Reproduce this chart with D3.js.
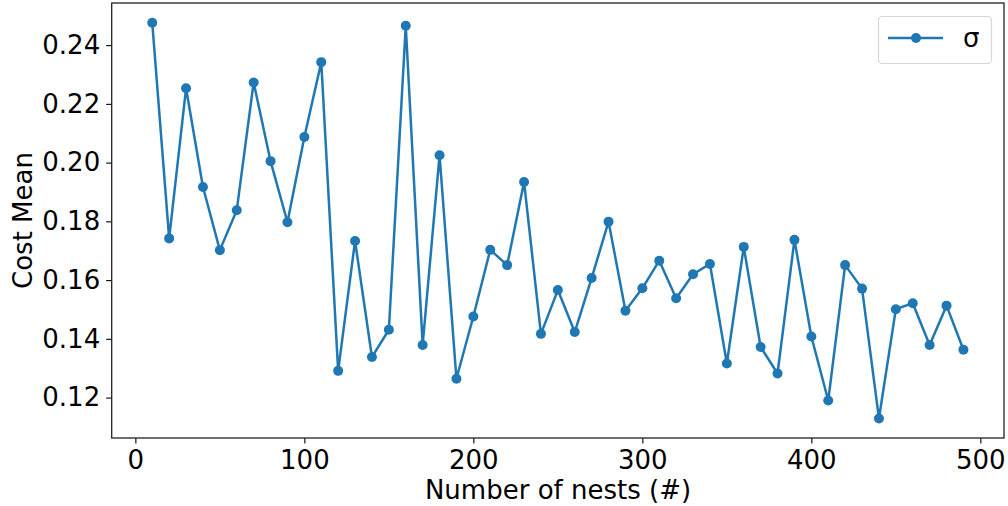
<!DOCTYPE html>
<html>
<head>
<meta charset="utf-8">
<script src="https://cdn.jsdelivr.net/npm/d3@7"></script>
<style>
  html, body { margin: 0; padding: 0; background: #fff; }
  svg { display: block; font-family: "DejaVu Sans", sans-serif; }
</style>
</head>
<body>
<svg id="chart" width="1008" height="506"></svg>
<script>
const nests = [10,20,30,40,50,60,70,80,90,100,110,120,130,140,150,160,170,180,190,200,
  210,220,230,240,250,260,270,280,290,300,310,320,330,340,350,360,370,380,390,400,
  410,420,430,440,450,460,470,480,490];
const sigmaCost = [0.2476,0.1742,0.2253,0.1917,0.1702,0.1838,0.2273,0.2005,0.1797,0.2087,
  0.2342,0.1291,0.1733,0.1338,0.1431,0.2466,0.1379,0.2025,0.1264,0.1476,
  0.1703,0.1651,0.1934,0.1417,0.1566,0.1423,0.1607,0.1799,0.1496,0.1572,
  0.1666,0.1538,0.1620,0.1655,0.1316,0.1713,0.1372,0.1282,0.1737,0.1408,
  0.1190,0.1651,0.1571,0.1129,0.1501,0.1521,0.1379,0.1513,0.1363];
const xTicks = [0,100,200,300,400,500];
const yTicks = [0.12,0.14,0.16,0.18,0.20,0.22,0.24];
const seriesLabel = "σ";
const xLabel = "Number of nests (#)";
const yLabel = "Cost Mean";

const color = "#1f77b4";
const mLeft = 111.7, mRight = 1004, mTop = 3, mBottom = 438;
const fs = 26;

const svg = d3.select("#chart");
const x = d3.scaleLinear().domain([-14, 514]).range([mLeft, mRight]);
const y = d3.scaleLinear().domain([0.10624, 0.25434]).range([mBottom, mTop]);

// axes
const xAxis = d3.axisBottom(x).tickValues(xTicks).tickSize(5.5).tickPadding(7).tickFormat(d3.format("d"));
const yAxis = d3.axisLeft(y).tickValues(yTicks).tickSize(5.5).tickPadding(6).tickFormat(d3.format(".2f"));

const gx = svg.append("g").attr("transform", `translate(0,${mBottom})`).call(xAxis);
const gy = svg.append("g").attr("transform", `translate(${mLeft},0)`).call(yAxis);
[gx, gy].forEach(g => {
  g.select(".domain").remove();
  g.selectAll(".tick line").attr("stroke", "#000").attr("stroke-width", 1.1);
  g.selectAll(".tick text").attr("fill", "#000").style("font-size", fs + "px").style("font-family", "DejaVu Sans");
});

// frame
svg.append("rect").attr("x", mLeft).attr("y", mTop).attr("width", mRight - mLeft).attr("height", mBottom - mTop)
  .attr("fill", "none").attr("stroke", "#222").attr("stroke-width", 1.3);

// line
const line = d3.line().x((d, i) => x(nests[i])).y(d => y(d));
svg.append("path").datum(sigmaCost).attr("d", line).attr("fill", "none")
  .attr("stroke", color).attr("stroke-width", 2.5).attr("stroke-linejoin", "round");
svg.append("g").selectAll("circle").data(sigmaCost).join("circle")
  .attr("cx", (d, i) => x(nests[i])).attr("cy", d => y(d)).attr("r", 5).attr("fill", color);

// labels
svg.append("text").attr("x", 558).attr("y", 499).attr("text-anchor", "middle")
  .style("font-size", fs + "px").attr("fill", "#000").text(xLabel);
svg.append("text").attr("transform", `translate(32,${(mTop + mBottom) / 2}) rotate(-90)`)
  .attr("text-anchor", "middle").style("font-size", fs + "px").attr("fill", "#000").text(yLabel);

// legend
const lg = svg.append("g");
lg.append("rect").attr("x", 878.5).attr("y", 16.5).attr("width", 113).attr("height", 47).attr("rx", 4)
  .attr("fill", "#fff").attr("fill-opacity", 0.8).attr("stroke", "#d6d6d6").attr("stroke-width", 1.2);
lg.append("line").attr("x1", 888).attr("x2", 943).attr("y1", 38).attr("y2", 38)
  .attr("stroke", color).attr("stroke-width", 2.5);
lg.append("circle").attr("cx", 916).attr("cy", 38).attr("r", 5).attr("fill", color);
lg.append("text").attr("x", 963).attr("y", 47).style("font-size", fs + "px").attr("fill", "#000").text(seriesLabel);
</script>
</body>
</html>
